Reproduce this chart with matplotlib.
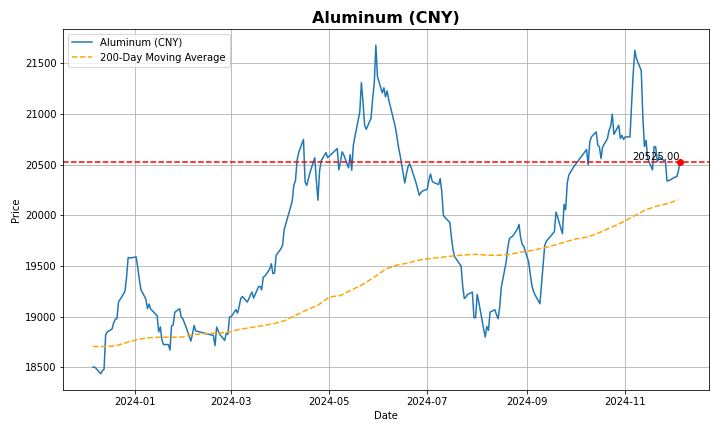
import pandas as pd
import matplotlib
matplotlib.use("Agg")
import matplotlib.pyplot as plt

# SHFE trading days (China holidays removed)
cn_holidays = ["2024-01-01", "2024-02-09", "2024-02-12", "2024-02-13", "2024-02-14",
               "2024-02-15", "2024-02-16", "2024-04-04", "2024-04-05", "2024-05-01",
               "2024-05-02", "2024-05-03", "2024-06-10", "2024-09-16", "2024-09-17",
               "2024-10-01", "2024-10-02", "2024-10-03", "2024-10-04", "2024-10-07"]

close = [
    # Dec 2023
    18500, 18505, 18490, 18437, 18470, 18480, 18820, 18850, 18880, 18940,
    18975, 18980, 19145, 19225, 19250, 19390, 19585, 19580,
    # Jan
    19590, 19480, 19360, 19265, 19175, 19080, 19125, 19075, 19060, 19010,
    18850, 18900, 18770, 18725, 18725, 18670, 18910, 18920, 19045, 19079,
    18996, 18980,
    # Feb
    18940, 18898, 18760, 18830, 18914, 18860, 18815, 18716, 18898, 18860,
    18825, 18766, 18838, 18825, 18996,
    # Mar
    19000, 19070, 19036, 19100, 19180, 19200, 19145, 19175, 19215, 19243,
    19184, 19295, 19300, 19265, 19391, 19400, 19470, 19523, 19425, 19431,
    19606,
    # Apr
    19672, 19705, 19860, 20140, 20300, 20340, 20540, 20620, 20750, 20330,
    20297, 20360, 20420, 20570, 20350, 20150, 20440, 20540, 20620, 20570,
    # May
    20660, 20450, 20530, 20627, 20600, 20470, 20600, 20446, 20693, 20780,
    21020, 21310, 21120, 20890, 20850, 20960, 21150, 21300, 21680, 21370,
    # Jun
    21210, 21260, 21170, 21230, 21140, 20880, 20790, 20680, 20600, 20320,
    20410, 20480, 20510, 20470, 20320, 20260, 20199, 20225, 20240,
    # Jul
    20260, 20350, 20410, 20340, 20325, 20305, 20364, 20230, 20000, 19980,
    19930, 19780, 19660, 19590, 19570, 19500, 19300, 19180, 19194, 19220,
    19243, 18990, 18990,
    # Aug
    19220, 19145, 18880, 18800, 18904, 18865, 19046, 19069, 19020, 18980,
    19095, 19292, 19540, 19680, 19770, 19785, 19793, 19866, 19911, 19780,
    19714, 19694,
    # Sep
    19540, 19420, 19310, 19250, 19215, 19128, 19320, 19500, 19705, 19745,
    19840, 20034, 19984, 19820, 20110, 20055, 20320, 20400, 20480,
    # Oct
    20650, 20500, 20725, 20775, 20824, 20693, 20676, 20561, 20676, 20760,
    20841, 20880, 21000, 20800, 20890, 20760, 20790, 20750,
    # Nov
    20775, 20775, 21100, 21400, 21630, 21550, 21430, 20970, 20680, 20742,
    20560, 20450, 20680, 20675, 20530, 20577, 20544, 20540, 20340, 20345,
    20350,
    # Dec 2024
    20379, 20380, 20430, 20525,
]

# 200-day moving average, read weekly
ma200 = [18706, 18706, 18712, 18745, 18776, 18793, 18798, 18798, 18800, 18825,
         18832, 18838, 18846, 18874, 18893, 18910, 18930, 18960, 19013, 19067,
         19115, 19194, 19210, 19265, 19320, 19390, 19470, 19510, 19530, 19560,
         19575, 19588, 19600, 19610, 19616, 19608, 19606, 19615, 19638, 19655,
         19678, 19706, 19740, 19770, 19788, 19830, 19880, 19930, 19990, 20050,
         20090, 20115, 20155]

dates = pd.bdate_range("2023-12-06", periods=len(close), freq="C", holidays=cn_holidays)
ma_dates = pd.date_range("2023-12-06", periods=len(ma200), freq="7D")
last_price = close[-1]

plt.figure(figsize=(10, 6), dpi=72)
plt.plot(dates, close, label="Aluminum (CNY)")
plt.plot(ma_dates, ma200, color="orange", linestyle="--", label="200-Day Moving Average")
plt.axhline(last_price, color="red", linestyle="--")
plt.scatter(dates[-1], last_price, color="red", zorder=5)
plt.text(dates[-1], last_price, f"{last_price:.2f}", ha="right", va="bottom", fontsize=10)
plt.title("Aluminum (CNY)", fontsize=16, fontweight="bold")
plt.xlabel("Date")
plt.ylabel("Price")
plt.legend(loc="upper left")
plt.grid(True)
plt.tight_layout()
plt.savefig("out.png")
